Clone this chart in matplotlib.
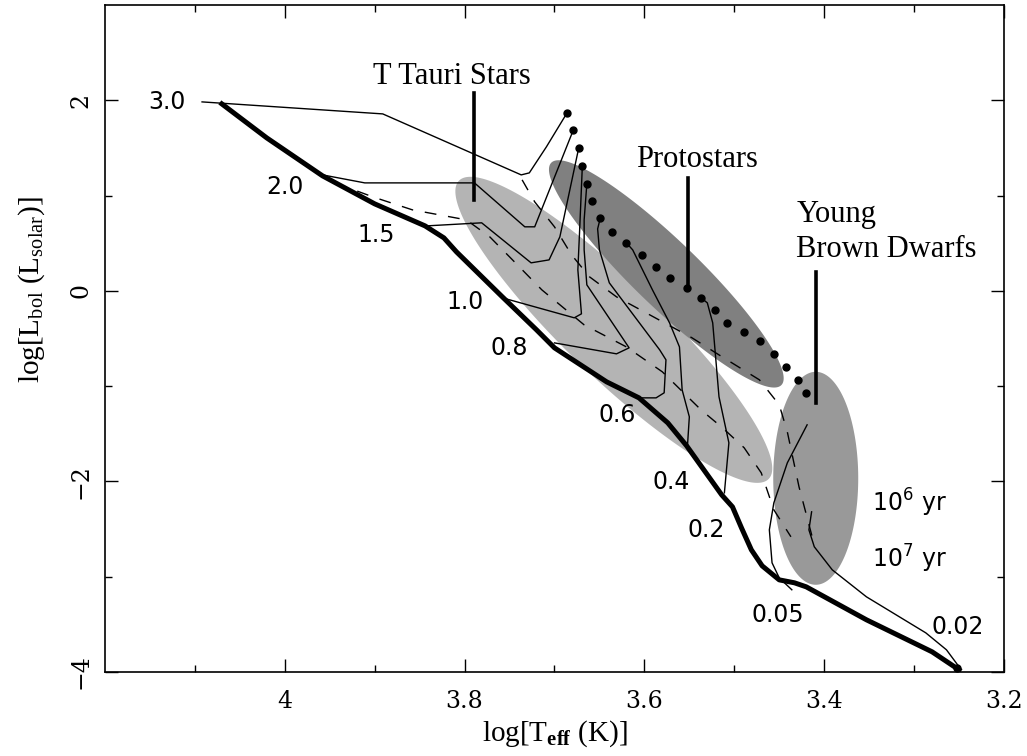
import numpy as np
import matplotlib.pyplot as plt

plt.rcParams['mathtext.fontset'] = 'custom'
plt.rcParams['mathtext.rm'] = 'Liberation Serif'
plt.rcParams['mathtext.bf'] = 'Liberation Serif:bold'
plt.rcParams['mathtext.sf'] = 'DejaVu Sans'

# zero-age main sequence (thick line)
zams_t = [4.070, 4.020, 3.958, 3.900, 3.844, 3.823, 3.809, 3.758, 3.720, 3.700, 3.642, 3.606,
          3.574, 3.553, 3.514, 3.502, 3.492, 3.481, 3.469, 3.450, 3.433, 3.420, 3.353, 3.280, 3.250]
zams_L = [1.962, 1.605, 1.207, 0.913, 0.682, 0.556, 0.409, -0.063, -0.409, -0.598, -0.955, -1.123,
          -1.385, -1.626, -2.141, -2.267, -2.487, -2.718, -2.886, -3.033, -3.064, -3.106, -3.452, -3.788, -3.977]

# pre-main-sequence tracks
trk30_t = [4.092, 3.891, 3.737, 3.728, 3.709, 3.686]
trk30_L = [1.983, 1.857, 1.217, 1.238, 1.511, 1.868]
trk20_t = [3.958, 3.911, 3.789, 3.733, 3.722, 3.679]
trk20_L = [1.217, 1.133, 1.133, 0.672, 0.672, 1.689]
trk15_t = [3.842, 3.781, 3.726, 3.706, 3.694, 3.673]
trk15_L = [0.682, 0.714, 0.294, 0.325, 0.567, 1.501]
trk10_t = [3.758, 3.678, 3.670, 3.674, 3.672, 3.669]
trk10_L = [-0.073, -0.283, -0.241, 0.220, 0.640, 1.312]
trk08_t = [3.700, 3.631, 3.617, 3.664, 3.667, 3.667, 3.664]
trk08_L = [-0.546, -0.661, -0.598, 0.063, 0.430, 0.745, 1.123]
trk06_t = [3.606, 3.587, 3.578, 3.576, 3.583, 3.639, 3.650, 3.652, 3.649]
trk06_L = [-1.123, -1.123, -1.070, -0.724, -0.619, 0.084, 0.430, 0.650, 0.766]
trk04_t = [3.552, 3.550, 3.558, 3.561, 3.572, 3.591, 3.613, 3.620]
trk04_L = [-1.616, -1.322, -1.039, -0.588, -0.336, 0.010, 0.430, 0.504]
trk02_t = [3.511, 3.506, 3.517, 3.524, 3.530, 3.537]
trk02_L = [-2.120, -1.595, -1.112, -0.336, -0.126, -0.073]
trk005_t = [3.436, 3.450, 3.458, 3.461, 3.456, 3.441, 3.419]
trk005_L = [-3.137, -3.012, -2.854, -2.508, -2.225, -1.805, -1.406]
trk002_t = [3.250, 3.264, 3.287, 3.353, 3.391, 3.411, 3.417, 3.414]
trk002_L = [-3.945, -3.767, -3.589, -3.211, -2.928, -2.686, -2.508, -2.319]

tracks = [(trk30_t, trk30_L), (trk20_t, trk20_L), (trk15_t, trk15_L), (trk10_t, trk10_L),
          (trk08_t, trk08_L), (trk06_t, trk06_L), (trk04_t, trk04_L), (trk02_t, trk02_L),
          (trk005_t, trk005_L), (trk002_t, trk002_L)]

# mass labels
mass_text = ['3.0', '2.0', '1.5', '1.0', '0.8', '0.6', '0.4', '0.2', '0.05', '0.02']
mass_t = [4.131, 4.000, 3.898, 3.800, 3.750, 3.630, 3.570, 3.531, 3.452, 3.252]
mass_L = [1.983, 1.091, 0.588, -0.115, -0.598, -1.301, -2.004, -2.508, -3.400, -3.526]

# birthline (dotted)
birth_t = [3.686, 3.679, 3.673, 3.669, 3.664, 3.658, 3.649, 3.636, 3.620, 3.603, 3.587, 3.571,
           3.553, 3.537, 3.521, 3.508, 3.489, 3.471, 3.456, 3.442, 3.429, 3.420]
birth_L = [1.868, 1.689, 1.501, 1.312, 1.123, 0.944, 0.766, 0.619, 0.504, 0.378, 0.252, 0.136,
           0.031, -0.073, -0.199, -0.336, -0.430, -0.525, -0.661, -0.797, -0.934, -1.070]

# isochrones (dashed)
iso6_t = [3.736, 3.722, 3.700, 3.681, 3.661, 3.631, 3.594, 3.547, 3.517, 3.472, 3.450, 3.441, 3.428, 3.411]
iso6_L = [1.165, 0.934, 0.672, 0.378, 0.147, -0.063, -0.252, -0.493, -0.672, -0.934, -1.196, -1.480, -2.057, -2.665]
iso7_t = [3.944, 3.902, 3.858, 3.798, 3.772, 3.750, 3.714, 3.667, 3.620, 3.580, 3.537, 3.513, 3.489, 3.470, 3.456, 3.437]
iso7_L = [1.133, 0.986, 0.850, 0.745, 0.567, 0.357, 0.010, -0.357, -0.588, -0.850, -1.249, -1.438, -1.647, -1.910, -2.298, -2.581]

fig = plt.figure(figsize=(10.27, 7.56), dpi=100)
ax = fig.add_axes([0.1022, 0.1111, 0.8754, 0.8823])
ax.set_xlim(4.2, 3.2)
ax.set_ylim(-4, 3)

# pixels per dex, for drawing tilted shaded regions
px_t = 0.8754 * 1027 / 1.0
px_L = 0.8823 * 756 / 7.0


def tilted_ellipse(tc, Lc, a_px, b_px, ang):
    s = np.linspace(0, 2 * np.pi, 200)
    th = np.radians(ang)
    dx = a_px * np.cos(s) * np.cos(th) - b_px * np.sin(s) * np.sin(th)
    dy = a_px * np.cos(s) * np.sin(th) + b_px * np.sin(s) * np.cos(th)
    return tc - dx / px_t, Lc + dy / px_L


et, eL = tilted_ellipse(3.634, -0.409, 215, 48, -43.9)
ax.fill(et, eL, color='#b4b4b4', lw=0, zorder=1)
et, eL = tilted_ellipse(3.5756, 0.178, 160, 33, -44.0)
ax.fill(et, eL, color='#808080', lw=0, zorder=1)
et, eL = tilted_ellipse(3.4094, -1.967, 106.5, 42.5, 90)
ax.fill(et, eL, color='#999999', lw=0, zorder=1)

ax.plot(zams_t, zams_L, color='black', lw=3.6, solid_joinstyle='round', zorder=3)
for tt, LL in tracks:
    ax.plot(tt, LL, color='black', lw=1.0, zorder=2)
ax.plot(iso6_t, iso6_L, color='black', lw=1.0, dashes=(8.5, 8.5), zorder=2)
ax.plot(iso7_t, iso7_L, color='black', lw=1.0, dashes=(8.5, 8.5), zorder=2)
ax.plot(birth_t, birth_L, 'o', color='black', ms=5, zorder=4)
ax.plot([3.252], [-3.955], 'o', color='black', ms=5, zorder=4)

for txt, tt, LL in zip(mass_text, mass_t, mass_L):
    ax.text(tt, LL, txt, fontsize=17, family='DejaVu Sans', ha='center', va='center')

ax.text(3.347, -2.319, r'10$^{\mathsf{6}}$ yr', fontsize=17, family='DejaVu Sans', ha='left', va='baseline')
ax.text(3.347, -2.907, r'10$^{\mathsf{7}}$ yr', fontsize=17, family='DejaVu Sans', ha='left', va='baseline')

# annotations
ax.text(3.814, 2.172, 'T Tauri Stars', fontsize=22, family='Liberation Serif', ha='center', va='baseline')
ax.plot([3.789, 3.789], [2.078, 0.955], color='black', lw=2.6, zorder=5)
ax.text(3.541, 1.301, 'Protostars', fontsize=22, family='Liberation Serif', ha='center', va='baseline')
ax.plot([3.551, 3.551], [1.186, 0.042], color='black', lw=2.6, zorder=5)
ax.text(3.431, 0.724, 'Young', fontsize=22, family='Liberation Serif', ha='left', va='baseline')
ax.text(3.431, 0.357, 'Brown Dwarfs', fontsize=22, family='Liberation Serif', ha='left', va='baseline')
ax.plot([3.409, 3.409], [0.2, -1.175], color='black', lw=2.6, zorder=5)

# axes
ax.set_xticks([4.0, 3.8, 3.6, 3.4, 3.2])
ax.set_xticklabels(['4', '3.8', '3.6', '3.4', '3.2'])
ax.set_xticks([4.1, 3.9, 3.7, 3.5, 3.3], minor=True)
ax.set_yticks([2, 0, -2, -4])
ax.set_yticklabels(['2', '0', '\u22122', '\u22124'])
ax.set_yticks([1, -1, -3], minor=True)
ax.tick_params(which='both', direction='in', top=True, right=True, width=1.0)
ax.tick_params(which='major', length=9.5)
ax.tick_params(which='minor', length=5)
ax.tick_params(axis='x', pad=13, labelsize=17)
ax.tick_params(axis='y', pad=9, labelsize=17, labelrotation=90)
for lab in ax.get_xticklabels() + ax.get_yticklabels():
    lab.set_family('DejaVu Serif')
for lab in ax.get_yticklabels():
    lab.set_va('center')
for sp in ax.spines.values():
    sp.set_linewidth(1.2)

ax.set_xlabel(r'log[T$_{\mathbf{eff}}$ (K)]', fontsize=21, family='Liberation Serif')
ax.xaxis.set_label_coords(0.5, -0.07)
ax.set_ylabel(r'log[L$_{\rm bol}$ (L$_{\rm solar}$)]', fontsize=21, family='Liberation Serif')
ax.yaxis.set_label_coords(-0.065, 0.573)

plt.savefig('out.png', dpi=100)
